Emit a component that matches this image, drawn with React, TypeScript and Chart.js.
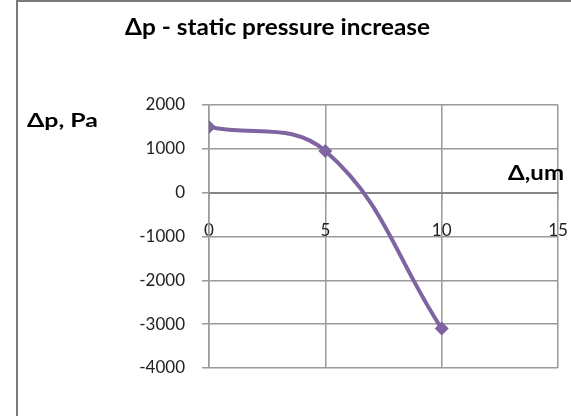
import React, { useEffect, useRef } from "react";
import { Chart, registerables } from "chart.js";
Chart.register(...registerables);

const titleText = "Δp - static pressure increase";
const yAxisTitle = "Δp, Pa";
const xAxisTitle = "Δ,um";
const gapValues = [0, 5, 10];
const pressureValues = [1500, 950, -3100];
const xTickValues = [0, 5, 10, 15];
const yTickValues = [2000, 1000, 0, -1000, -2000, -3000, -4000];

const FONT = "Lato, 'Open Sans', sans-serif";
const GRID = "#9a9a9a";

function measure(text: string, font: string) {
  const c = document.createElement("canvas");
  const ctx = c.getContext("2d")!;
  ctx.font = font;
  const m = ctx.measureText(text);
  return { w: m.width, asc: (m as any).fontBoundingBoxAscent ?? 0 };
}

function FitText(props: { text: string; x: number; baseline: number; size: number; width: number }) {
  const { text, x, baseline, size, width } = props;
  const m = measure(text, `bold ${size}px ${FONT}`);
  const k = m.w > 0 ? width / m.w : 1;
  return (
    <div
      style={{
        position: "absolute",
        left: x,
        top: baseline - m.asc,
        fontFamily: FONT,
        fontWeight: 700,
        fontSize: size,
        color: "#000",
        whiteSpace: "nowrap",
        transform: `scaleX(${k})`,
        transformOrigin: "left top",
      }}
    >
      {text}
    </div>
  );
}

export default function App() {
  const ref = useRef<HTMLCanvasElement>(null);
  useEffect(() => {
    const chart = new Chart(ref.current!, {
      type: "scatter",
      data: {
        datasets: [
          {
            data: gapValues.map((x, i) => ({ x, y: pressureValues[i] })),
            showLine: true,
            borderColor: "#8064A2",
            backgroundColor: "#8064A2",
            borderWidth: 4,
            tension: 0.4,
            pointStyle: "rectRot",
            pointRadius: 7,
            pointBorderWidth: 0,
          },
        ],
      },
      options: {
        responsive: false,
        animation: false,
        layout: { padding: { left: 0, top: 105, right: 13, bottom: 48 } },
        plugins: { legend: { display: false }, tooltip: { enabled: false } },
        scales: {
          x: {
            type: "linear",
            position: { y: 0 },
            min: 0,
            max: 15,
            afterBuildTicks: (s: any) => {
              s.ticks = xTickValues.map((v) => ({ value: v }));
            },
            afterFit: (s: any) => {
              s.paddingLeft = 0;
              s.paddingRight = 0;
            },
            grid: { color: GRID, lineWidth: 1.5, tickLength: 7 },
            border: { color: "#858585", width: 2 },
            ticks: {
              padding: 21,
              color: "#222",
              font: { family: FONT, size: 17 },
              callback: (v: any) => String(v),
            },
          },
          y: {
            type: "linear",
            min: -4000,
            max: 2000,
            afterBuildTicks: (s: any) => {
              s.ticks = yTickValues.map((v) => ({ value: v }));
            },
            afterFit: (s: any) => {
              s.width = 209;
            },
            grid: { color: GRID, lineWidth: 1.5, tickLength: 7 },
            border: { color: GRID, width: 1.5 },
            ticks: {
              padding: 17,
              color: "#222",
              font: { family: FONT, size: 17 },
              callback: (v: any) => String(v),
            },
          },
        },
      },
    });
    return () => chart.destroy();
  }, []);

  return (
    <div style={{ position: "fixed", left: 0, top: 0, width: 571, height: 416, background: "#fff", overflow: "hidden" }}>
      <div
        style={{
          position: "absolute",
          left: 16,
          top: 0,
          width: 560,
          height: 420,
          borderLeft: "2px solid #7a7a7a",
          borderTop: "2px solid #7a7a7a",
        }}
      />
      <canvas ref={ref} width={571} height={416} style={{ position: "absolute", left: 0, top: 0 }} />
      <FitText text={titleText} x={125} baseline={35} size={22} width={305} />
      <FitText text={yAxisTitle} x={27} baseline={127} size={18} width={71} />
      <FitText text={xAxisTitle} x={508} baseline={180} size={21} width={56} />
    </div>
  );
}
